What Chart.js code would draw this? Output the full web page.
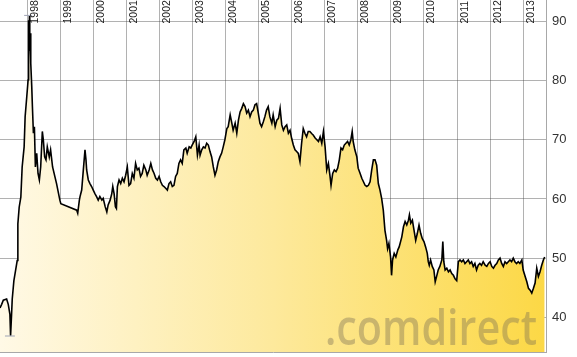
<!DOCTYPE html>
<html><head><meta charset="utf-8">
<script src="https://cdn.jsdelivr.net/npm/chart.js@4"></script>
<style>html,body{margin:0;padding:0;background:#fff;}#wrap{width:577px;height:357px;position:relative;}</style>
</head><body><div id="wrap"><canvas id="c" width="577" height="357"></canvas></div>
<script>
// ---- data (fractional years / share price) ----
const dates = [
1997.18,1997.23,1997.28,1997.38,1997.43,1997.48,1997.50,1997.53,1997.55,1997.60,1997.65,1997.70,1997.72,1997.76,1997.81,1997.85,1997.88,1997.91,1997.94,1997.99,
1998.03,1998.04,1998.05,1998.07,1998.08,1998.09,1998.11,1998.14,1998.16,1998.19,1998.22,1998.25,1998.29,1998.33,1998.37,1998.41,1998.46,1998.49,1998.53,1998.57,
1998.61,1998.67,1998.71,1998.77,1998.89,1998.99,1999.02,1999.50,1999.53,1999.58,1999.60,1999.65,1999.70,1999.75,1999.78,1999.80,1999.85,1999.90,1999.95,
2000.00,2000.05,2000.10,2000.15,2000.20,2000.26,2000.30,2000.36,2000.41,2000.45,2000.51,2000.56,2000.59,2000.63,2000.67,2000.70,2000.73,2000.78,2000.83,2000.88,2000.93,2000.98,
2001.03,2001.08,2001.13,2001.18,2001.23,2001.28,2001.33,2001.38,2001.43,2001.48,2001.53,2001.59,2001.63,2001.69,2001.74,2001.79,2001.84,2001.89,2001.94,2001.99,
2002.04,2002.09,2002.14,2002.19,2002.24,2002.29,2002.34,2002.39,2002.44,2002.49,2002.54,2002.59,2002.64,2002.69,2002.74,2002.80,2002.84,2002.90,2002.95,2002.99,
2003.05,2003.10,2003.15,2003.20,2003.23,2003.28,2003.33,2003.38,2003.43,2003.48,2003.53,2003.58,2003.63,2003.68,2003.73,2003.78,2003.83,2003.88,2003.93,2003.98,
2004.04,2004.08,2004.14,2004.19,2004.23,2004.29,2004.34,2004.39,2004.44,2004.49,2004.54,2004.59,2004.64,2004.69,2004.74,2004.79,2004.84,2004.89,2004.94,2004.99,
2005.04,2005.09,2005.14,2005.19,2005.24,2005.29,2005.34,2005.40,2005.44,2005.50,2005.55,2005.60,2005.65,2005.70,2005.75,2005.80,2005.85,2005.90,2005.95,
2006.00,2006.05,2006.10,2006.15,2006.20,2006.25,2006.30,2006.35,2006.40,2006.45,2006.50,2006.55,2006.61,2006.65,2006.71,2006.76,2006.81,2006.86,2006.91,2006.96,
2007.01,2007.06,2007.11,2007.16,2007.19,2007.24,2007.29,2007.34,2007.39,2007.44,2007.49,2007.54,2007.59,2007.64,2007.69,2007.74,2007.79,2007.83,2007.86,2007.91,2007.97,
2008.01,2008.07,2008.12,2008.17,2008.22,2008.27,2008.32,2008.37,2008.42,2008.47,2008.52,2008.57,2008.62,2008.67,2008.72,2008.77,2008.82,2008.87,2008.90,2008.94,2008.99,
2009.02,2009.05,2009.10,2009.15,2009.21,2009.25,2009.33,2009.38,2009.43,2009.48,2009.53,2009.56,2009.60,2009.65,2009.70,2009.75,2009.80,2009.85,2009.90,2009.95,
2010.00,2010.05,2010.10,2010.13,2010.16,2010.20,2010.25,2010.30,2010.34,2010.39,2010.43,2010.48,2010.54,2010.57,2010.60,2010.64,2010.69,2010.74,2010.79,2010.84,2010.89,2010.94,2010.99,
2011.04,2011.09,2011.14,2011.19,2011.24,2011.29,2011.34,2011.39,2011.44,2011.49,2011.54,2011.59,2011.64,2011.69,2011.74,2011.79,2011.85,2011.90,2011.95,
2012.00,2012.05,2012.10,2012.15,2012.20,2012.25,2012.30,2012.35,2012.40,2012.45,2012.50,2012.55,2012.60,2012.65,2012.70,2012.75,2012.80,2012.85,2012.90,2012.96,
2013.00,2013.06,2013.11,2013.16,2013.21,2013.26,2013.31,2013.36,2013.41,2013.46,2013.51,2013.56,2013.61,2013.65
];
const prices = [
41.6,42.2,42.9,43.1,42.2,40.5,36.9,40.5,43.1,46.2,47.9,49.6,55.8,58.6,60.3,65.4,67.1,68.8,73.9,77.3,
80.1,90.2,84.0,90.9,85.0,88.0,82.9,79.0,75.6,71.1,72.2,65.4,67.7,64.3,63.2,65.4,71.4,70.0,67.1,66.6,
68.8,67.1,68.3,65.4,62.6,59.8,59.2,58.1,57.6,59.8,60.4,61.5,64.9,68.3,66.6,64.9,63.2,62.6,62.1,
61.5,60.9,60.4,59.8,60.4,59.8,60.1,58.7,57.8,59.0,59.8,60.9,62.1,60.9,58.7,58.4,62.1,63.2,62.6,63.5,62.9,64.0,
65.4,62.3,62.6,64.3,63.5,66.0,64.9,65.2,63.8,64.3,65.7,64.9,64.0,64.9,66.0,64.9,64.3,63.5,63.2,63.8,
62.9,62.3,62.1,61.8,61.5,62.6,62.9,62.1,62.3,63.8,64.3,66.0,66.6,66.0,68.3,68.6,67.7,68.8,68.6,69.1,
69.7,70.5,67.4,69.1,67.4,68.3,68.8,68.6,69.4,69.1,68.0,67.1,65.4,64.0,64.9,66.3,67.1,67.7,68.8,70.0,
71.9,72.2,74.2,72.8,71.6,72.8,71.1,73.3,74.7,75.3,76.1,75.6,74.5,75.0,73.9,74.7,75.0,75.9,76.1,74.5,
72.8,72.2,73.0,73.9,75.0,75.6,73.9,72.8,74.2,72.2,73.3,73.6,75.3,72.5,71.6,72.2,72.5,71.1,71.6,
70.2,69.1,68.3,68.0,67.7,66.3,69.4,71.9,71.1,70.5,71.4,71.4,71.0,70.8,70.3,70.0,69.7,70.5,69.4,71.4,
68.8,64.9,66.0,63.8,62.3,64.3,64.9,64.6,65.2,66.6,68.6,68.3,69.1,69.4,69.7,69.1,70.0,71.4,69.7,68.3,67.1,
65.2,64.3,63.5,62.9,62.3,62.1,62.3,62.9,64.9,66.6,66.6,65.7,62.6,61.5,60.1,58.1,54.7,53.0,51.6,52.5,50.2,
47.1,49.7,50.8,50.2,51.4,51.9,53.6,55.3,56.2,55.6,56.4,57.3,55.9,56.4,54.7,53.0,54.2,55.6,54.2,53.3,
52.8,51.9,50.8,49.4,48.8,49.7,48.6,48.0,46.0,47.1,48.0,48.6,49.7,52.8,49.4,48.0,48.3,47.7,48.0,47.4,47.1,46.5,46.2,
49.4,49.7,49.4,49.7,49.1,49.4,49.7,49.1,49.4,48.6,49.1,48.0,48.8,49.1,48.8,49.4,48.8,48.6,49.1,
49.4,48.6,48.3,48.8,49.1,49.7,50.0,49.1,48.6,49.4,49.1,49.4,49.7,49.4,50.0,49.4,49.1,49.4,49.1,49.7,
48.0,46.9,46.0,44.9,44.6,44.1,44.9,45.8,48.3,46.9,47.7,48.8,49.7,50.2
];
const yearTicks = [1998,1999,2000,2001,2002,2003,2004,2005,2006,2007,2008,2009,2010,2011,2012,2013];
const priceTicks = [40,50,60,70,80,90];
// high / low markers
const extremeDates = [[1997.91,1998.15],[1997.33,1997.63]];
const extremeValues = [91.0, 36.85];

const FONT = '"Liberation Sans", Arial, Helvetica, sans-serif';

const series = dates.map((d,i)=>({x:d, y:prices[i]}));

const yearLabelPlugin = {
  id:'yearLabels',
  afterDraw(chart){
    const xs = chart.scales.x, ctx = chart.ctx;
    ctx.save();
    ctx.font = '10.5px ' + FONT;
    ctx.fillStyle = '#1a1a1a';
    ctx.textAlign = 'left';
    ctx.textBaseline = 'alphabetic';
    yearTicks.forEach(y=>{
      const px = xs.getPixelForValue(y);
      ctx.save();
      ctx.translate(px + 10.5, chart.chartArea.top + 23.5);
      ctx.rotate(-Math.PI/2);
      ctx.fillText(String(y), 0, 0);
      ctx.restore();
    });
    ctx.restore();
  }
};

const watermarkPlugin = {
  id:'watermark',
  afterDatasetsDraw(chart){
    const ctx = chart.ctx, ca = chart.chartArea;
    const txt = '.comdirect';
    ctx.save();
    ctx.font = '600 48px "Open Sans", sans-serif';
    const w = ctx.measureText(txt).width;
    const target = 212;
    ctx.translate(ca.right - 9 - target, ca.bottom - 7);
    ctx.scale(target / w, 1);
    ctx.fillStyle = 'rgba(115,105,85,0.38)';
    ctx.textBaseline = 'alphabetic';
    ctx.fillText(txt, 0, 0);
    ctx.restore();
  }
};

const gridColor = 'rgba(70,70,70,0.42)';

new Chart(document.getElementById('c'), {
  type: 'line',
  data: {
    datasets: [
      {
        data: series,
        borderColor: '#000',
        borderWidth: 1.6,
        pointRadius: 0,
        tension: 0,
        fill: 'start',
        backgroundColor: (c) => {
          const ch = c.chart, ca = ch.chartArea;
          if (!ca) return '#fde89a';
          const g = ch.ctx.createLinearGradient(ca.left, 0, ca.right, 0);
          g.addColorStop(0, '#fff9e6');
          g.addColorStop(0.5, '#fde99c');
          g.addColorStop(1, '#fcd845');
          return g;
        },
        order: 2
      },
      {
        data: [{x:extremeDates[0][0], y:extremeValues[0]},{x:extremeDates[0][1], y:extremeValues[0]}],
        borderColor: '#9ea3b5', borderWidth: 1, pointRadius: 0, fill: false, order: 1
      },
      {
        data: [{x:extremeDates[1][0], y:extremeValues[1]},{x:extremeDates[1][1], y:extremeValues[1]}],
        borderColor: '#9ea3b5', borderWidth: 1, pointRadius: 0, fill: false, order: 1
      }
    ]
  },
  options: {
    responsive: false,
    animation: false,
    devicePixelRatio: 1,
    layout: { padding: { left: 0, top: 0, right: 0, bottom: 5 } },
    plugins: { legend: { display: false }, tooltip: { enabled: false } },
    scales: {
      x: {
        type: 'linear',
        position: 'bottom',
        min: 1997.18, max: 2013.69,
        z: 1,
        afterBuildTicks: (s) => { s.ticks = yearTicks.map(v => ({ value: v })); },
        afterFit: (s) => { s.height = 0; s.paddingLeft = 0; s.paddingRight = 0; },
        ticks: { display: false },
        grid: { color: gridColor, lineWidth: 1, drawTicks: false },
        border: { display: true, color: '#a8a8a8', width: 1 }
      },
      y: {
        type: 'linear',
        position: 'right',
        min: 34.15, max: 93.6,
        z: 1,
        afterBuildTicks: (s) => { s.ticks = priceTicks.map(v => ({ value: v })); },
        afterFit: (s) => { s.width = 31; s.paddingTop = 0; s.paddingBottom = 0; },
        ticks: {
          padding: 6,
          color: '#333',
          font: { family: FONT, size: 13 },
          callback: (v) => String(v)
        },
        grid: { color: gridColor, lineWidth: 1, drawTicks: false },
        border: { display: true, color: '#a8a8a8', width: 1 }
      }
    }
  },
  plugins: [watermarkPlugin, yearLabelPlugin]
});
</script>
</body></html>
